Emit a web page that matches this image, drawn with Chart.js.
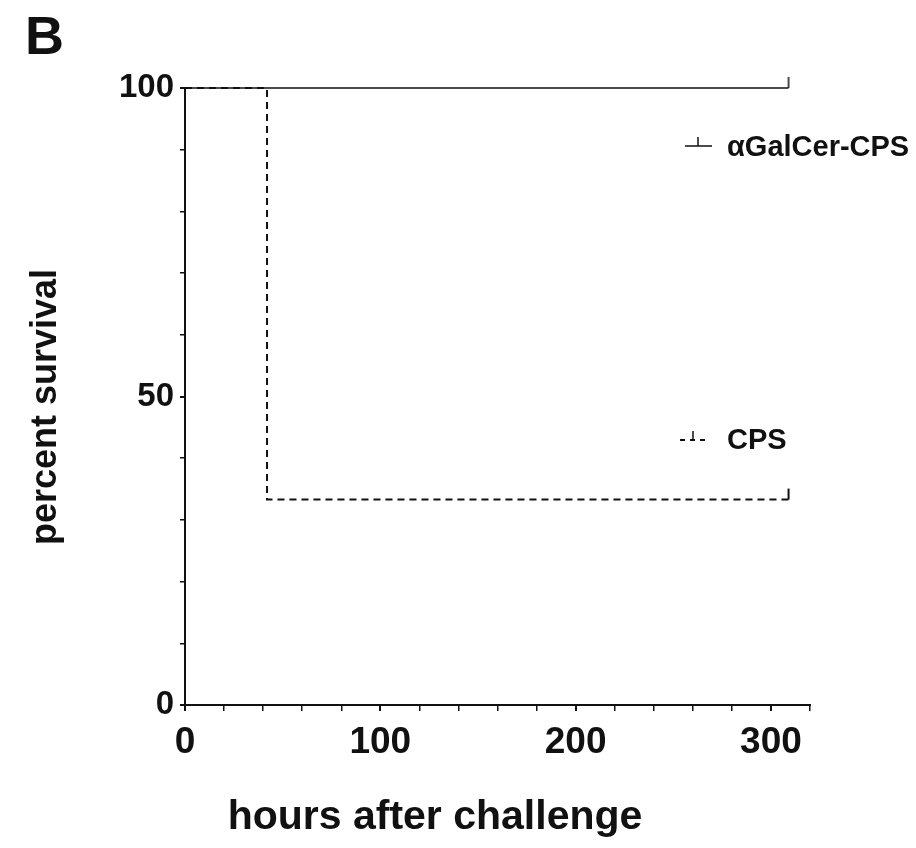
<!DOCTYPE html>
<html>
<head>
<meta charset="utf-8">
<script src="https://cdn.jsdelivr.net/npm/chart.js@4.4.0/dist/chart.umd.min.js"></script>
<style>
  html, body { margin: 0; background: #fff; }
</style>
</head>
<body>
<canvas id="survival" width="916" height="848"></canvas>
<script>
// survival curves (hours, percent)
const hoursGalCer = [0, 309];
const survivalGalCer = [100, 100];
const hoursCPS = [0, 42, 309];
const survivalCPS = [100, 33.3, 33.3];

const seriesNames = ['\u03b1GalCer-CPS', 'CPS'];
const xLabelTicks = [0, 100, 200, 300];
const yLabelTicks = [0, 50, 100];

const toPoints = (xs, ys) => xs.map((x, i) => ({ x: x, y: ys[i] }));
const lastOnly = r => ctx => ctx.dataIndex === ctx.dataset.data.length - 1 ? r : 0;

const ink = '#111';
const fontFamily = '"Liberation Sans", Arial, sans-serif';

// censor mark: short vertical stroke sitting on top of the line
function censorMark(w) {
    const cv = document.createElement('canvas');
    cv.width = 4; cv.height = 24;
    const c = cv.getContext('2d');
    c.fillStyle = ink;
    c.fillRect(2 - w / 2, 1, w, 11);
    return cv;
}

// panel letter, axis titles and the legend are placed by hand
const annotations = {
    id: 'annotations',
    afterDraw(chart) {
        const c = chart.ctx;
        c.save();
        c.fillStyle = ink;
        c.font = 'bold 54px ' + fontFamily;
        c.textBaseline = 'alphabetic';
        c.textAlign = 'left';
        c.fillText('B', 25, 54);

        c.font = 'bold 41px ' + fontFamily;
        c.textAlign = 'center';
        c.textBaseline = 'middle';
        c.fillText('hours after challenge', 435, 818);

        c.save();
        c.translate(46, 407);
        c.rotate(-Math.PI / 2);
        c.font = 'bold 36px ' + fontFamily;
        c.fillText('percent survival', 0, 0);
        c.restore();

        // legend
        c.font = 'bold 29px ' + fontFamily;
        c.textAlign = 'left';
        c.fillText(seriesNames[0], 727, 148);
        c.fillText(seriesNames[1], 727, 441);
        c.strokeStyle = ink;
        c.lineWidth = 1.5;
        c.beginPath();
        c.moveTo(685, 146); c.lineTo(712, 146);
        c.moveTo(698, 137); c.lineTo(698, 146);
        c.stroke();
        c.lineWidth = 2;
        c.setLineDash([5, 5]);
        c.beginPath();
        c.moveTo(680, 440); c.lineTo(708, 440);
        c.stroke();
        c.setLineDash([]);
        c.lineWidth = 1.5;
        c.beginPath();
        c.moveTo(693, 431); c.lineTo(693, 440);
        c.stroke();
        c.restore();
    }
};

const ctx = document.getElementById('survival').getContext('2d');

const data = {
    datasets: [{
        label: seriesNames[0],
        data: toPoints(hoursGalCer, survivalGalCer),
        borderColor: ink,
        borderWidth: 1.5,
        stepped: 'before',
        pointStyle: censorMark(1.5),
        pointRadius: lastOnly(6),
        clip: false
    }, {
        label: seriesNames[1],
        data: toPoints(hoursCPS, survivalCPS),
        borderColor: ink,
        borderWidth: 2,
        borderDash: [7, 5],
        stepped: 'before',
        pointStyle: censorMark(2),
        pointRadius: lastOnly(6),
        clip: false
    }]
};

const isMajor = list => c => c.tick && list.includes(c.tick.value) ? 2 : 1.5;

const config = {
    type: 'line',
    data: data,
    plugins: [annotations],
    options: {
        responsive: false,
        animation: false,
        layout: { padding: { top: 88, right: 106, left: 0, bottom: 0 } },
        plugins: {
            legend: { display: false },
            tooltip: { enabled: false }
        },
        scales: {
            x: {
                type: 'linear',
                min: 0,
                max: 320,
                afterFit: s => { s.height = 143; },
                border: { color: ink, width: 2 },
                grid: { drawOnChartArea: false, color: ink, lineWidth: isMajor(xLabelTicks), tickLength: 6 },
                ticks: {
                    stepSize: 20,
                    autoSkip: false,
                    maxRotation: 0,
                    padding: 10,
                    color: ink,
                    font: { family: fontFamily, size: 37, weight: 'bold' },
                    callback: v => xLabelTicks.includes(v) ? String(v) : ''
                }
            },
            y: {
                min: 0,
                max: 100,
                afterFit: s => { s.width = 185; },
                border: { color: ink, width: 2 },
                grid: { drawOnChartArea: false, color: ink, lineWidth: isMajor(yLabelTicks), tickLength: 5 },
                ticks: {
                    stepSize: 10,
                    autoSkip: false,
                    padding: 6,
                    color: ink,
                    font: { family: fontFamily, size: 33, weight: 'bold' },
                    callback: v => yLabelTicks.includes(v) ? String(v) : ''
                }
            }
        }
    }
};

const survivalChart = new Chart(ctx, config);
</script>
</body>
</html>
